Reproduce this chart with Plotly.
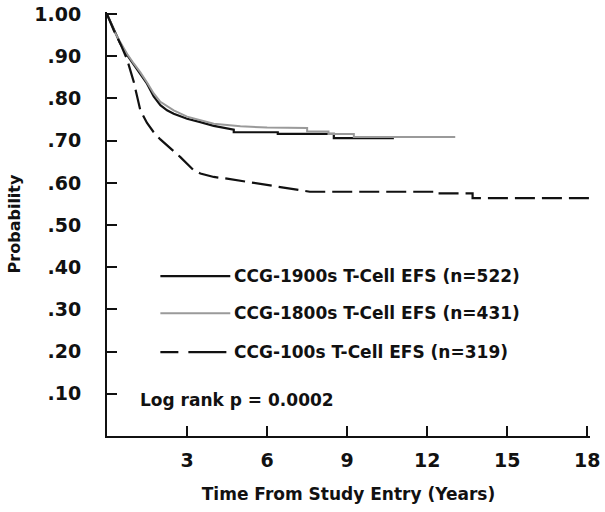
import plotly.graph_objects as go


# survival curves (years, probability)
years_1900s = [0, 0.25, 0.5, 0.75, 1.0, 1.25, 1.5, 1.75, 2.0, 2.25, 2.5, 2.75, 3.0,
               3.5, 4.0, 4.75, 4.75, 6.4, 6.4, 8.5, 8.5, 10.75]
prob_1900s = [1.0, 0.965, 0.93, 0.903, 0.88, 0.86, 0.835, 0.805, 0.784, 0.772, 0.764,
              0.758, 0.752, 0.744, 0.735, 0.726, 0.72, 0.72, 0.716, 0.716, 0.706, 0.706]

years_1800s = [0, 0.25, 0.5, 0.75, 1.0, 1.25, 1.5, 1.75, 2.0, 2.5, 3.0, 3.5, 4.0,
               5.0, 6.0, 7.5, 7.5, 8.3, 8.3, 9.25, 9.25, 13.05]
prob_1800s = [1.0, 0.962, 0.933, 0.906, 0.883, 0.862, 0.838, 0.812, 0.792, 0.772, 0.757,
              0.748, 0.740, 0.734, 0.731, 0.73, 0.722, 0.722, 0.716, 0.716, 0.709, 0.709]

years_100s = [0, 0.25, 0.5, 0.75, 1.0, 1.25, 1.5, 1.75, 2.0, 2.25, 2.5, 2.75, 3.0,
              3.25, 3.5, 4.0, 4.5, 5.0, 5.5, 6.0, 6.6, 7.6, 12.4, 12.4, 13.7, 13.7, 18.4]
prob_100s = [1.0, 0.962, 0.93, 0.893, 0.84, 0.772, 0.742, 0.72, 0.703, 0.69, 0.675,
             0.661, 0.645, 0.63, 0.622, 0.614, 0.61, 0.605, 0.600, 0.595, 0.588, 0.579,
             0.579, 0.575, 0.575, 0.564, 0.564]

series_names = [
    "CCG-1900s T-Cell EFS (n=522)",
    "CCG-1800s T-Cell EFS (n=431)",
    "CCG-100s T-Cell EFS (n=319)",
]

x_ticks = [3, 6, 9, 12, 15, 18]
y_ticks = [0.1, 0.2, 0.3, 0.4, 0.5, 0.6, 0.7, 0.8, 0.9, 1.0]
y_tick_labels = [".10", ".20", ".30", ".40", ".50", ".60", ".70", ".80", ".90", "1.00"]

legend_y = [0.379, 0.291, 0.199]
p_value_text = "Log rank p = 0.0002"


styles = [
    dict(color="#111111", width=2.2),
    dict(color="#9a9a9a", width=2),
    dict(color="#111111", width=2.2, dash="20px,7px"),
]

fig = go.Figure()

for xs, ys, style in zip([years_1900s, years_1800s, years_100s],
                         [prob_1900s, prob_1800s, prob_100s], styles):
    fig.add_trace(
        go.Scatter(
            x=xs,
            y=ys,
            mode="lines",
            line=style,
            showlegend=False
        )
    )


# hand-made legend: sample line plus text
legend_dash = [None, None, "18px,10px,38px"]
for name, ly, style, dash in zip(series_names, legend_y, styles, legend_dash):
    line = dict(color=style["color"], width=style["width"])
    if dash:
        line["dash"] = dash
    fig.add_shape(
        type="line",
        x0=2.0, x1=4.62, y0=ly, y1=ly,
        xref="x", yref="y",
        line=line
    )
    fig.add_annotation(
        x=4.7, y=ly,
        xref="x", yref="y",
        text=name,
        showarrow=False,
        xanchor="left",
        yanchor="middle",
        font=dict(family="DejaVu Sans", size=17, color="#111111", weight="bold")
    )

fig.add_annotation(
    x=1.15, y=0.085,
    xref="x", yref="y",
    text=p_value_text,
    showarrow=False,
    xanchor="left",
    yanchor="middle",
    font=dict(family="DejaVu Sans", size=17, color="#111111", weight="bold")
)


fig.update_xaxes(
    range=[0, 18.1],
    tickvals=x_ticks,
    ticks="inside",
    ticklen=10,
    tickwidth=2,
    tickcolor="#111111",
    showline=True,
    linecolor="#111111",
    linewidth=2,
    showgrid=False,
    zeroline=False,
    automargin=False,
    ticklabeloverflow="allow",
    ticklabelstandoff=6,
    tickfont=dict(family="DejaVu Sans", size=19, color="#111111", weight="bold"),
    title=dict(
        text="Time From Study Entry (Years)",
        standoff=18,
        font=dict(family="DejaVu Sans", size=17, color="#111111", weight="bold")
    )
)

fig.update_yaxes(
    range=[0, 1.005],
    tickvals=y_ticks,
    ticktext=y_tick_labels,
    ticks="inside",
    ticklen=10,
    tickwidth=2,
    tickcolor="#111111",
    showline=True,
    linecolor="#111111",
    linewidth=2,
    showgrid=False,
    zeroline=False,
    automargin=False,
    ticklabeloverflow="allow",
    ticklabelstandoff=20,
    tickfont=dict(family="DejaVu Sans", size=19, color="#111111", weight="bold"),
    title=dict(
        text="Probability",
        standoff=10,
        font=dict(family="DejaVu Sans", size=16, color="#111111", weight="bold")
    )
)

fig.update_layout(
    width=605,
    height=512,
    margin=dict(l=107, r=15, t=12, b=76),
    plot_bgcolor="white",
    paper_bgcolor="white",
    showlegend=False
)

# drop the browser's default body margin so the figure fills the window
fig.write_html(
    "out.html",
    config={"displayModeBar": False},
    post_script="document.body.style.margin='0'; document.body.style.overflow='hidden';"
)
